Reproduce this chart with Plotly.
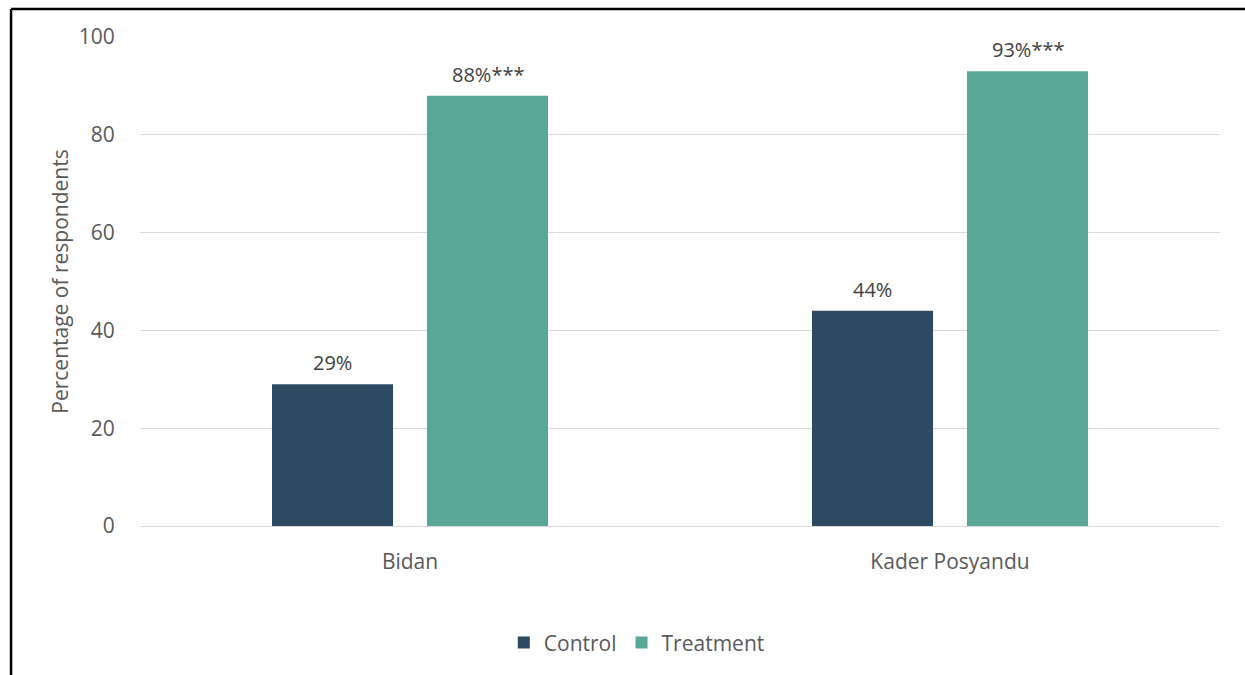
import plotly.graph_objects as go

categories = ["Bidan", "Kader Posyandu"]
control = [29, 44]
treatment = [88, 93]
control_labels = ["29%", "44%"]
treatment_labels = ["88%***", "93%***"]
y_ticks = [0, 20, 40, 60, 80, 100]

FONT = "Open Sans"
TEXT = "#595959"
LABEL = "#404040"

fig = go.Figure()
fig.add_trace(go.Bar(
    name="Control", x=categories, y=control,
    marker=dict(color="#2E4A62", line=dict(width=0)),
))
fig.add_trace(go.Bar(
    name="Treatment", x=categories, y=treatment,
    marker=dict(color="#59A797", line=dict(width=0)),
))

# Value labels sitting above each bar of the group
for values, labels, shift in ((control, control_labels, -77.5),
                              (treatment, treatment_labels, 77.5)):
    for cat, v, lab in zip(categories, values, labels):
        fig.add_annotation(
            x=cat, y=v, text=lab, showarrow=False,
            xshift=shift, yshift=6, yanchor="bottom",
            font=dict(family=FONT, size=20, color=LABEL),
        )

# Outer frame around the chart
frame = dict(type="line", xref="paper", yref="paper",
             line=dict(color="black", width=2.5))
fig.add_shape(**frame, x0=-0.1194, x1=1.05, y0=1.0573, y1=1.0573)
fig.add_shape(**frame, x0=-0.1194, x1=-0.1194, y0=1.0573, y1=-0.32)

fig.update_layout(
    width=1245, height=675,
    margin=dict(l=140, r=25, t=37, b=149),
    paper_bgcolor="white", plot_bgcolor="white",
    barmode="group", bargap=0.426, bargroupgap=0.219,
    font=dict(family=FONT, color=TEXT),
    showlegend=True,
    legend=dict(orientation="h", x=0.46, xanchor="center",
                y=-0.239, yanchor="middle",
                font=dict(family=FONT, size=21, color=TEXT),
                itemwidth=30, traceorder="normal"),
    xaxis=dict(
        showgrid=False, showline=False, zeroline=False,
        ticks="outside", ticklen=17, tickcolor="rgba(0,0,0,0)",
        tickfont=dict(family=FONT, size=21, color=TEXT),
    ),
    yaxis=dict(
        range=[0, 100], tickvals=y_ticks,
        showgrid=True, gridcolor="#D9D9D9", gridwidth=1,
        zeroline=True, zerolinecolor="#D9D9D9", zerolinewidth=1,
        showline=False,
        ticks="outside", ticklen=20, tickcolor="rgba(0,0,0,0)",
        tickfont=dict(family=FONT, size=21, color=TEXT),
        title=dict(text="Percentage of respondents", standoff=4,
                   font=dict(family=FONT, size=21, color=TEXT)),
    ),
)

fig.write_html("out.html")
